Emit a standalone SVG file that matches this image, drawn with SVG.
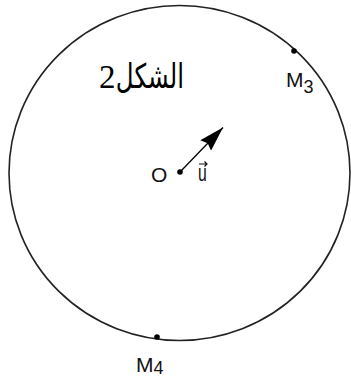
<svg xmlns="http://www.w3.org/2000/svg" width="351" height="379" viewBox="0 0 351 379">
<style>
.lbl{font-family:"Liberation Sans",Arial,sans-serif;font-size:21px;fill:#111}
.sub{font-family:"Liberation Sans",Arial,sans-serif;font-size:18px;fill:#111}
.dot{fill:#000}
</style>
<defs>
<marker id="ah" markerWidth="26" markerHeight="15" refX="25" refY="7.5" orient="auto" markerUnits="userSpaceOnUse">
<path d="M0,0 L25,7.5 L0,15 L3,7.5 Z" fill="#000"/>
</marker>
</defs>
<rect width="351" height="379" fill="#fff"/>
<g id="circle">
<ellipse cx="179.5" cy="173" rx="170.5" ry="167.5" fill="none" stroke="#222" stroke-width="1.6"/>
</g>
<g id="connectors">
<line x1="180" y1="172" x2="223" y2="127.5" stroke="#000" stroke-width="1.3" marker-end="url(#ah)"/>
</g>
<g id="O">
<circle class="dot" cx="180" cy="172" r="2.8"/>
<text class="lbl" x="151" y="182">O</text>
</g>
<g id="u">
<text class="lbl" transform="translate(198,181) scale(0.75,1.1)">u</text>
<path d="M199,164 L207,164 M204.5,161.5 L207,164 L204.5,166.5" stroke="#111" stroke-width="1.2" fill="none"/>
</g>
<g id="M3">
<circle class="dot" cx="294" cy="51" r="2.8"/>
<text class="lbl" x="286" y="87">M<tspan class="sub" dy="6">3</tspan></text>
</g>
<g id="M4">
<circle class="dot" cx="157" cy="337" r="2.8"/>
<text class="lbl" x="136" y="372">M<tspan class="sub" dy="2">4</tspan></text>
</g>
<g id="title">
<text x="99" y="88" style="font-family:'Liberation Serif','Times New Roman',serif;font-size:33px;fill:#000">2</text>
<text transform="translate(184,88) scale(0.72,1)" text-anchor="end" style="font-family:'DejaVu Sans',sans-serif;font-size:34px;fill:#000">الشكل</text>
</g>
</svg>
